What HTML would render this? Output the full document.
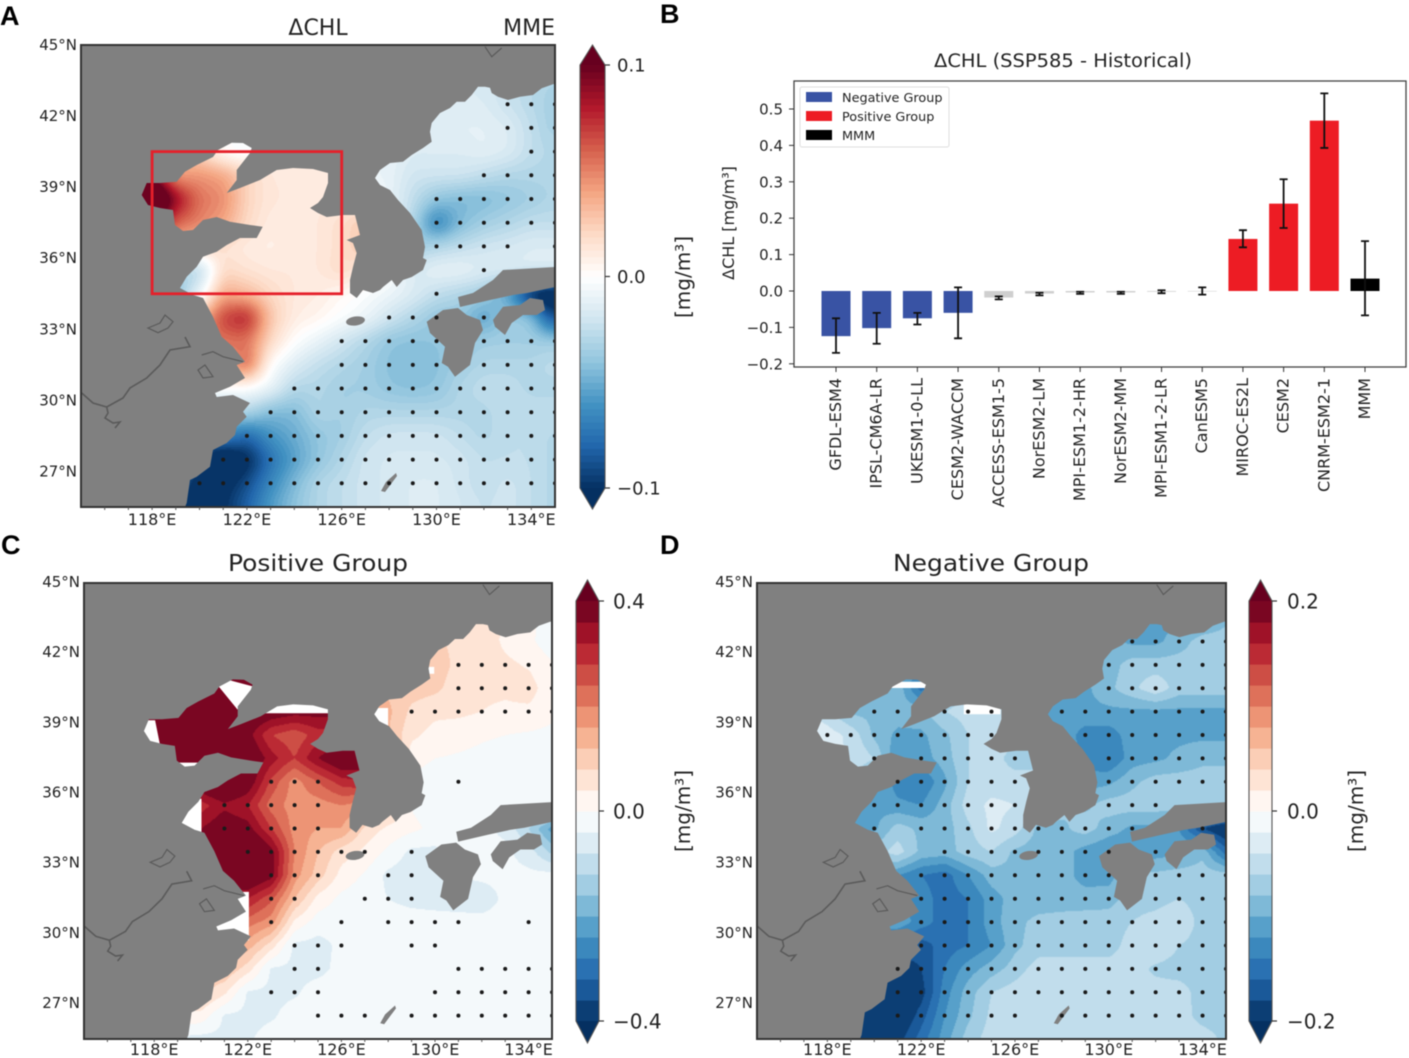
<!DOCTYPE html>
<html lang="en">
<head>
<meta charset="utf-8">
<title>Change in chlorophyll: MME, model bars and group composites</title>
<style>
html,body{margin:0;padding:0;background:#fff;}
#figure{position:relative;width:1409px;height:1058px;overflow:hidden;background:#fff;filter:blur(0.55px);}
canvas{position:absolute;display:block;}
#overlay{position:absolute;left:0;top:0;}
text{font-family:"DejaVu Sans","Liberation Sans",sans-serif;fill:#222;}
.letter{font-family:"Liberation Sans",sans-serif;font-weight:bold;font-size:27px;fill:#000;}
</style>
</head>
<body>
<div id="figure">
<canvas id="field-a" width="474" height="462" style="left:81px;top:45px"></canvas>
<canvas id="field-c" width="468" height="456" style="left:84px;top:583px"></canvas>
<canvas id="field-d" width="469" height="456" style="left:757px;top:583px"></canvas>
<svg id="overlay" width="1409" height="1058" viewBox="0 0 1409 1058" xmlns="http://www.w3.org/2000/svg">
<defs>
<g id="land-shape">
<path fill="#808080" d="M81 45H555V84L553 84.3 541.7 88.3 533 95 520 96.7 508 100 498 96.7 491.7 93 490 87.7 485 86.7 478 86.7 471.7 95 465 101.7 456.7 101.7 450 108 440 113 431.7 123 430 131.7 431.7 141.7 423 148 411.7 155 403 161.7 390 163 380 170 375 178 380 185 390 190 398 200 410 213 421.7 230 425 247 423 258 426.7 260 423 270 411.7 277 403 280 396.7 287 391.7 280 383 287 380 290 373 293 363 290 356.7 298 350 293 350 280 353 267 356.7 253 353 243 346.7 240 360 235 355 215 343 215 326.7 217 318 213 310 208 318 203 323 197 328 183 328 173 313 169 293 168 276.7 170 260 180 240 188 226.7 193 236.7 180 236.7 170 250 153 251.7 148 243 143 231.7 142.7 218 150 213 157 196.7 165 185 171.7 176.7 181.7 160 183 146.7 183 141.7 195 148 205 160 208 173 210 175 225 183 231 193 230 203 220 216.7 217 230 221.7 250 225 262.7 226.7 256.7 238 240 238 226.7 245 216.7 251.7 203 256.7 196.7 266.7 186.7 276.7 180 288 193 295 203 298 213 316.7 221.7 336.7 233 346.7 245 361.7 236.7 365 245 378 230 386.7 215 393 216.7 397 233 395 250 403 243 411.7 246.7 416.7 236.7 426.7 235 435 226.7 443 213 450 210 466.7 196.7 476.7 190 480 186.7 503 185 507H81Z"/>
<path fill="#808080" d="M555 267 503 270 493 280 473 293 458 297 460 307 490 300 513 295 527 293 555 287Z"/>
<path fill="#808080" d="M493 320 503 306.7 520 305 530 298 543 300 545 310 536.7 315 523 315 511.7 323 505 335 495 326.7Z"/>
<path fill="#808080" d="M426.7 321.7 443 310 458 308 466.7 315 480 320 483 330 475 343 470 365 455 376.7 448 366.7 441.7 363 445 346.7 430 333Z"/>
<ellipse fill="#808080" cx="355.5" cy="321" rx="9.5" ry="4.5" transform="rotate(-8 355.5 321)"/>
<path fill="#808080" d="M396 473 386 482 381 491 385 492 391 484 397 476Z"/>
<path fill="none" stroke="#5a5a5a" stroke-width="1.6" d="M81.7 393 93 403 106.7 407 123 398 130 388 146.7 378 160 365 170 350 190 346.7 185 337M106.7 407 108 413 105 418 113 423 120 422 115 428"/>
<path fill="none" stroke="#5a5a5a" stroke-width="1.2" d="M148 328 160 323 165 315 173 321.7 168 328 158 332.7ZM198 370 205 365 213 376.7 203 378ZM485 46.7 491.7 56.7 501.7 48M201.7 355 213 351.7 223 356.7 243 361.7"/>
</g>
</defs>

<text class="letter" x="0" y="25">A</text>
<text class="letter" x="660" y="23">B</text>
<text class="letter" x="1" y="554">C</text>
<text class="letter" x="660" y="554">D</text>

<text x="318" y="35" font-size="22" text-anchor="middle">ΔCHL</text>
<text x="555" y="35" font-size="22" text-anchor="end">MME</text>
<text x="318" y="571" font-size="23" text-anchor="middle" textLength="180" lengthAdjust="spacingAndGlyphs">Positive Group</text>
<text x="991" y="571" font-size="23" text-anchor="middle" textLength="196" lengthAdjust="spacingAndGlyphs">Negative Group</text>
<text x="1063" y="67" font-size="18.5" text-anchor="middle" textLength="258" lengthAdjust="spacingAndGlyphs">ΔCHL (SSP585 - Historical)</text>

<text transform="translate(690,277) rotate(-90)" font-size="20" text-anchor="middle">[mg/m³]</text>
<text transform="translate(690,811) rotate(-90)" font-size="20" text-anchor="middle">[mg/m³]</text>
<text transform="translate(1363,811) rotate(-90)" font-size="20" text-anchor="middle">[mg/m³]</text>
<text transform="translate(734,223) rotate(-90)" font-size="16" text-anchor="middle">ΔCHL [mg/m³]</text>

<g id="panels"></g>
<g id="bars"></g>

<g id="legend">
<rect x="800" y="87" width="149" height="60" rx="2" fill="#fff" stroke="#ddd"/>
<rect x="806" y="92" width="26" height="10" fill="#3953a4"/>
<text x="842" y="102" font-size="12.8">Negative Group</text>
<rect x="806" y="111" width="26" height="10" fill="#ed1c24"/>
<text x="842" y="121" font-size="12.8">Positive Group</text>
<rect x="806" y="130" width="26" height="10" fill="#000"/>
<text x="842" y="140" font-size="12.8">MMM</text>
</g>
</svg>
</div>

<script>
/* ---------- grid axes: 1 degree cells ---------- */
const gridLons = [115,116,117,118,119,120,121,122,123,124,125,126,127,128,129,130,131,132,133,134,135];
const gridLats = [44.5,43.5,42.5,41.5,40.5,39.5,38.5,37.5,36.5,35.5,34.5,33.5,32.5,31.5,30.5,29.5,28.5,27.5,26.5,25.5];
const _ = null;

/* Delta-CHL fields, in 0.001 mg/m3; null = land */
const chlMME = [
[_,_,_,_,_,_,_,_,_,_,_,_,_,_,_,_,_,_,_,_,_],
[_,_,_,_,_,_,_,_,_,_,_,_,_,_,_,_,_,_,_,_,_],
[_,_,_,_,_,_,_,_,_,_,_,_,_,_,_,_,-15,-15,-22,-28,-35],
[_,_,_,_,_,_,_,_,_,_,_,_,_,_,-15,-12,-12,-12,-15,-25,-35],
[_,_,_,_,_,20,0,-5,_,_,_,_,_,-10,-15,-15,-15,-12,-15,-25,-30],
[_,_,_,_,40,45,40,22,12,12,12,10,-10,-10,-20,-20,-20,-25,-30,-30,-30],
[_,_,_,150,90,55,48,22,13,12,12,10,_,-10,-25,-40,-45,-45,-40,-35,-30],
[_,_,_,_,60,50,40,20,10,12,12,18,28,_,-30,-70,-45,-35,-30,-25,-25],
[_,_,_,_,_,_,15,10,8,12,12,18,30,_,_,-30,-25,-20,-18,-15,-15],
[_,_,_,_,_,-30,20,15,12,12,12,20,_,_,_,-10,-10,-15,-15,-15,-15],
[_,_,_,_,-45,-10,38,32,20,12,10,4,-2,-8,-15,-25,-30,-35,-55,-110,-120],
[_,_,_,_,_,30,70,80,28,10,6,-2,-8,-20,-30,-40,-40,-55,-35,-40,-100],
[_,_,_,_,_,_,55,55,20,0,-10,-20,-30,-40,-42,-40,-40,-35,-35,-35,-35],
[_,_,_,_,_,_,_,60,0,-15,-25,-30,-35,-42,-45,-42,-35,-30,-30,-30,-25],
[_,_,_,_,_,_,0,-2,-10,-30,-30,-35,-35,-40,-42,-40,-30,-25,-25,-30,-30],
[_,_,_,_,_,_,_,-30,-45,-45,-30,-35,-30,-30,-30,-30,-30,-30,-25,-25,-25],
[_,_,_,_,_,_,-65,-80,-60,-50,-40,-35,-25,-20,-20,-20,-25,-30,-25,-25,-30],
[_,_,_,_,_,-90,-120,-105,-75,-55,-40,-30,-20,-18,-18,-18,-20,-25,-25,-25,-30],
[_,_,_,_,-80,-105,-105,-90,-65,-45,-30,-25,-20,-18,-15,-15,-20,-25,-20,-25,-30],
[_,_,_,_,-105,-110,-100,-80,-55,-40,-30,-25,-20,-18,-15,-15,-18,-22,-20,-25,-30]
];
const chlPositive = [
[_,_,_,_,_,_,_,_,_,_,_,_,_,_,_,_,_,_,_,_,_],
[_,_,_,_,_,_,_,_,_,_,_,_,_,_,_,_,_,_,_,_,_],
[_,_,_,_,_,_,_,_,_,_,_,_,_,_,_,_,70,70,30,10,-25],
[_,_,_,_,_,_,_,_,_,_,_,_,_,_,110,100,70,70,50,35,5],
[_,_,_,_,_,450,450,450,_,_,_,_,_,110,100,90,60,50,50,60,10],
[_,_,_,_,460,460,460,420,400,380,380,380,170,130,70,50,50,40,30,30,10],
[_,_,_,460,460,460,460,380,280,250,300,300,_,120,50,25,15,5,0,-5,-10],
[_,_,_,_,460,460,460,420,340,280,360,420,400,_,15,0,-5,-10,-15,-15,-20],
[_,_,_,_,_,_,460,400,270,180,240,300,320,_,_,-20,-25,-25,-25,-25,-25],
[_,_,_,_,_,300,350,320,220,180,180,200,_,_,_,-25,-25,-25,-25,-25,-25],
[_,_,_,_,300,360,400,380,280,180,160,160,70,30,10,-10,-25,-30,-50,-120,-220],
[_,_,_,_,_,380,420,460,380,200,120,60,30,-10,-50,-50,-30,-30,-30,-60,-130],
[_,_,_,_,_,_,420,430,380,180,100,25,-5,-50,-65,-60,-40,-30,-30,-30,-25],
[_,_,_,_,_,_,_,320,250,120,25,-10,-25,-40,-50,-55,-60,-65,-30,-25,-25],
[_,_,_,_,_,_,250,220,180,30,-20,-25,-25,-25,-25,-25,-25,-25,-25,-25,-25],
[_,_,_,_,_,_,_,140,60,-50,-55,-30,-25,-25,-25,-25,-25,-25,-25,-25,-25],
[_,_,_,_,_,_,120,60,-45,-50,-50,-30,-25,-25,-25,-25,-25,-25,-25,-25,-25],
[_,_,_,_,_,100,50,-45,-50,-45,-25,-25,-25,-25,-25,-25,-25,-25,-25,-25,-25],
[_,_,_,_,40,25,-45,-50,-45,-25,-25,-25,-25,-25,-25,-25,-25,-25,-25,-25,-25],
[_,_,_,_,-50,-55,-50,-45,-25,-25,-25,-25,-25,-25,-25,-25,-25,-25,-25,-25,-25]
];
const chlNegative = [
[_,_,_,_,_,_,_,_,_,_,_,_,_,_,_,_,_,_,_,_,_],
[_,_,_,_,_,_,_,_,_,_,_,_,_,_,_,_,_,-105,-105,-105,-85],
[_,_,_,_,_,_,_,_,_,_,_,_,_,_,_,_,-105,-105,-90,-70,-70],
[_,_,_,_,_,_,_,_,_,_,_,_,_,_,-105,-90,-70,-70,-70,-70,-70],
[_,_,_,_,_,-85,-85,-150,_,_,_,_,_,-105,-105,-85,-65,-45,-70,-70,-70],
[_,_,_,_,-85,-85,-90,-85,-60,-50,-50,-50,-105,-105,-105,-105,-105,-105,-105,-105,-105],
[_,_,_,-30,-45,-85,-105,-105,-85,-60,-50,-50,_,-105,-130,-130,-110,-105,-105,-105,-105],
[_,_,_,_,-40,-60,-120,-110,-90,-60,-50,-70,-70,_,-130,-140,-110,-105,-95,-85,-85],
[_,_,_,_,_,_,-130,-140,-105,-60,-50,-50,-50,_,_,-105,-85,-70,-70,-70,-70],
[_,_,_,_,_,-105,-115,-120,-90,-50,-35,-40,_,_,_,-70,-70,-70,-70,-70,-70],
[_,_,_,_,-105,-105,-70,-85,-90,-65,-35,-50,-85,-85,-70,-90,-105,-105,-120,-180,-210],
[_,_,_,_,_,-70,-50,-85,-90,-70,-60,-85,-90,-90,-110,-120,-110,-110,-105,-85,-150],
[_,_,_,_,_,_,-120,-140,-150,-120,-90,-85,-85,-90,-110,-110,-75,-75,-70,-70,-70],
[_,_,_,_,_,_,_,-130,-150,-140,-110,-90,-90,-90,-90,-88,-70,-70,-60,-70,-70],
[_,_,_,_,_,_,-105,-130,-150,-140,-110,-85,-75,-72,-70,-70,-60,-50,-40,-70,-70],
[_,_,_,_,_,_,_,-170,-150,-140,-120,-85,-70,-70,-70,-70,-50,-40,-60,-70,-70],
[_,_,_,_,_,_,-200,-180,-140,-110,-90,-70,-50,-50,-50,-50,-50,-65,-70,-70,-70],
[_,_,_,_,_,-210,-210,-190,-130,-90,-60,-50,-45,-45,-45,-45,-45,-50,-50,-70,-70],
[_,_,_,_,-210,-210,-210,-170,-120,-85,-55,-45,-45,-45,-45,-45,-45,-45,-50,-68,-70],
[_,_,_,_,-210,-210,-190,-150,-110,-70,-50,-45,-45,-45,-45,-45,-45,-45,-50,-50,-65]
];

/* significance stipples: longitudes listed for each latitude row */
const stippleLatsA = [42.5,41.5,40.5,39.5,38.5,37.5,36.5,35.5,34.5,33.5,32.5,31.5,30.5,29.5,28.5,27.5,26.5];
const stippleLonsA = [
[133,134,135],[133,134,135],[134,135],[132,133,134,135],[130,131,132,133,134,135],[130,131,132,133,134,135],
[130,131,132,133,135],[132],[130],[128,129,130,132],[126,127,128,129,130,132,133,134,135],[126,127,128,129,130,132,133,134,135],
[124,125,126,127,128,129,130,131,132,133,134,135],[123,124,125,126,127,128,129,130,131,132,133,134,135],
[122,123,124,125,126,127,128,129,130,131,132,133,134,135],[121,122,123,124,125,126,127,128,129,130,131,132,133,134,135],
[120,121,122,123,124,125,126,127,128,129,130,131,132,133,134,135]
];
const stippleLatsC = [41.5,40.5,39.5,36.5,35.5,34.5,33.5,32.5,31.5,30.5,29.5,28.5,27.5,26.5];
const stippleLonsC = [
[131,132,133,134,135],[131,132,133,134,135],[129,130,131,132,133,134,135],[123,124,125,131],[121,122,123,124,125],[121,122,123,124,125],
[122,123,124,125,126,127,129],[123,124,125,128,129],[123,124,127,128,129],[123,126,128,129,130,131,134],[124,125,126,129,130],
[124,125,131,132,133,134,135],[123,124,125,130,131,132,133,134,135],[125,126,127,129,130,131,132,133,134,135]
];
const stippleLatsD = [42.5,41.5,40.5,39.5,38.5,37.5,36.5,35.5,34.5,33.5,32.5,31.5,30.5,29.5,28.5,27.5,26.5];
const stippleLonsD = [
[131,132,133,134,135],[130,131,132,133,134,135],[130,131,132,133,134,135],[120,121,123,124,125,128,129,130,131,132,133,134,135],
[118,119,120,121,122,123,124,125,129,130,131,132,133,134,135],[120,122,123,124,125,126,130,131,132,133,134,135],
[121,122,123,124,125,126,130,131,132,133,134,135],[120,121,122,123,124,125,126,130,131,132],
[120,122,123,124,125,126,127,128,129,130,131,134],[123,124,125,126,127,128,129,130,132],
[122,123,124,125,126,127,128,129,130,132,133,134,135],[122,123,124,125,126,127,128,129,130,132,133,134,135],
[122,123,124,125,126,127,128,129,130,131,132,133,134,135],[122,123,124,125,126,127,128,129,130,131,132,133,134,135],
[121,122,123,124,125,126,127,128,129,130,131,132,133,134,135],[121,122,123,124,125,126,127,128,129,130,131,132,133,134,135],
[121,122,123,124,125,126,128,129,130,131,132,133,134,135]
];

/* map tick labels */
const latTicks = [45,42,39,36,33,30,27];
const lonTicks = [118,122,126,130,134];
const lonMinorTicks = [116,117,118,119,120,121,122,123,124,125,126,127,128,129,130,131,132,133,134];

/* colour bar tick values */
const cbarTicksA = [0.1,0,-0.1];
const cbarTicksC = [0.4,0,-0.4];
const cbarTicksD = [0.2,0,-0.2];

/* bar chart data */
const models = ["GFDL-ESM4","IPSL-CM6A-LR","UKESM1-0-LL","CESM2-WACCM","ACCESS-ESM1-5","NorESM2-LM","MPI-ESM1-2-HR","NorESM2-MM","MPI-ESM1-2-LR","CanESM5","MIROC-ES2L","CESM2","CNRM-ESM2-1","MMM"];
const meanChange = [-0.124,-0.102,-0.075,-0.060,-0.018,-0.007,-0.004,-0.004,-0.002,-0.001,0.143,0.240,0.468,0.034];
const errHigh = [-0.075,-0.060,-0.060,0.010,-0.015,-0.005,-0.002,-0.002,0.002,0.010,0.167,0.307,0.543,0.137];
const errLow = [-0.170,-0.145,-0.092,-0.130,-0.023,-0.012,-0.008,-0.008,-0.006,-0.010,0.120,0.173,0.393,-0.067];
const modelGroups = ["neg","neg","neg","neg","none","none","none","none","none","none","pos","pos","pos","mmm"];
const barTicks = [0.5,0.4,0.3,0.2,0.1,0,-0.1,-0.2];

/* ---------- colour map ---------- */
const rdbuStops = ["#053061","#2166ac","#4393c3","#92c5de","#d1e5f0","#ffffff","#fddbc7","#f4a582","#d6604d","#b2182b","#67001f"];
const rdbuRGB = rdbuStops.map(h => [parseInt(h.slice(1,3),16),parseInt(h.slice(3,5),16),parseInt(h.slice(5,7),16)]);
function cmap(t){
  t = Math.max(0,Math.min(1,t));
  const f = t*(rdbuRGB.length-1), i = Math.min(rdbuRGB.length-2,Math.floor(f)), k = f-i;
  return [0,1,2].map(c => Math.round(rdbuRGB[i][c]*(1-k)+rdbuRGB[i+1][c]*k));
}
function css(rgb){return "rgb("+rgb.join(",")+")";}
function bandT(v,vmax,n){
  const idx = Math.max(0,Math.min(n-1,Math.floor((v+vmax)/(2*vmax)*n)));
  return (idx+0.5)/n;
}

/* ---------- helpers ---------- */
const NS = "http://www.w3.org/2000/svg";
function mk(parent,tag,attrs,txt){
  const e = document.createElementNS(NS,tag);
  for(const k in attrs) e.setAttribute(k,attrs[k]);
  if(txt!==undefined) e.textContent = txt;
  parent.appendChild(e);
  return e;
}
function fillLand(rows){
  const g = rows.map(r => r.slice());
  for(let pass=0;pass<30;pass++){
    let missing = 0;
    const snap = g.map(r => r.slice());
    for(let j=0;j<g.length;j++)for(let i=0;i<g[j].length;i++){
      if(snap[j][i]!==null) continue;
      let s=0,w=0;
      for(let dj=-1;dj<=1;dj++)for(let di=-1;di<=1;di++){
        const r = snap[j+dj];
        if(r && r[i+di]!==undefined && r[i+di]!==null){s+=r[i+di];w++;}
      }
      if(w) g[j][i]=s/w; else missing++;
    }
    if(!missing) break;
  }
  return g;
}
function sampleField(g,lon,lat){
  let fx = lon-gridLons[0], fy = gridLats[0]-lat;
  fx = Math.max(0,Math.min(gridLons.length-1.001,fx));
  fy = Math.max(0,Math.min(gridLats.length-1.001,fy));
  const i=Math.floor(fx), j=Math.floor(fy), a=fx-i, b=fy-j;
  return (g[j][i]*(1-a)+g[j][i+1]*a)*(1-b)+(g[j+1][i]*(1-a)+g[j+1][i+1]*a)*b;
}
function boxSmooth(vals,w,h,rad){
  const tmp = new Float32Array(vals.length);
  for(let y=0;y<h;y++)for(let x=0;x<w;x++){
    let s=0,c=0;
    for(let d=-rad;d<=rad;d++){const q=x+d;if(q>=0&&q<w){s+=vals[y*w+q];c++;}}
    tmp[y*w+x]=s/c;
  }
  for(let x=0;x<w;x++)for(let y=0;y<h;y++){
    let s=0,c=0;
    for(let d=-rad;d<=rad;d++){const q=y+d;if(q>=0&&q<h){s+=tmp[q*w+x];c++;}}
    vals[y*w+x]=s/c;
  }
}

/* ---------- panel definitions ---------- */
const LON0=115, LON1=135, LAT0=25.5, LAT1=45;
const panels = [
 {key:"a",x:81,y:45,w:474,h:462,data:chlMME,vmax:0.1,bands:64,smooth:7,lats:stippleLatsA,lons:stippleLonsA,
  cb:{x:580,w:25,top:45,hi:65,lo:488,bot:509,lx:617},ticks:cbarTicksA,fs:18,labelX:77,lonY:525,latOff:5,white:[]},
 {key:"c",x:84,y:583,w:468,h:456,data:chlPositive,vmax:0.4,bands:20,smooth:1,lats:stippleLatsC,lons:stippleLonsC,
  cb:{x:576,w:23,top:580,hi:601,lo:1021,bot:1043,lx:613},ticks:cbarTicksC,fs:20,labelX:80,lonY:1055,latOff:4,
  white:["216.5,148.7 229,143.6 254.4,150.4 248,170.7 236.3,173","138.7,184 153,184 158.9,213.6 138.7,213.6","175.7,227 197.6,227 197.6,238 175.7,238","176.5,263.6 200,263.6 200,304 176.5,304","210,358 248,358 248,407 210,407","262.8,167.3 330,167.3 330,177 262.8,177","373.5,171.7 389,171.7 389,195 373.5,195","428.6,130 435.7,130 435.7,137 428.6,137"]},
 {key:"d",x:757,y:583,w:469,h:456,data:chlNegative,vmax:0.2,bands:20,smooth:1,lats:stippleLatsD,lons:stippleLonsD,
  cb:{x:1249,w:23,top:580,hi:601,lo:1021,bot:1043,lx:1287},ticks:cbarTicksD,fs:20,labelX:753,lonY:1055,latOff:4,
  white:["216.5,145 252,145 252,151.4 216.5,151.4","290,167 327,167 327,178 290,178"]}
];

function lonX(p,lon){return p.x+(lon-LON0)/(LON1-LON0)*p.w;}
function latY(p,lat){return p.y+(LAT1-lat)/(LAT1-LAT0)*p.h;}

const panelRoot = document.getElementById("panels");
panels.forEach(p => {
  /* field */
  const grid = fillLand(p.data);
  const cv = document.getElementById("field-"+p.key), ctx = cv.getContext("2d");
  const W = cv.width, H = cv.height, vals = new Float32Array(W*H);
  for(let py=0;py<H;py++){
    const lat = LAT1-(py+0.5)/H*(LAT1-LAT0);
    for(let px=0;px<W;px++){
      const lon = LON0+(px+0.5)/W*(LON1-LON0);
      vals[py*W+px] = sampleField(grid,lon,lat)/1000;
    }
  }
  boxSmooth(vals,W,H,p.smooth);
  boxSmooth(vals,W,H,p.smooth);
  const img = ctx.createImageData(W,H);
  for(let o=0;o<W*H;o++){
    const c = cmap(bandT(vals[o],p.vmax,p.bands));
    img.data[o*4]=c[0];img.data[o*4+1]=c[1];img.data[o*4+2]=c[2];img.data[o*4+3]=255;
  }
  ctx.putImageData(img,0,0);

  const g = mk(panelRoot,"g",{});
  
  

  const clipId = "clip-"+p.key;
  const cp = mk(g,"clipPath",{id:clipId});
  mk(cp,"rect",{x:p.x,y:p.y,width:p.w,height:p.h});
  const inner = mk(g,"g",{"clip-path":"url(#"+clipId+")"});
  
  

  const geo = "translate("+p.x+","+p.y+") scale("+(p.w/474)+","+(p.h/462)+") translate(-81,-45)";
  p.white.forEach(pts => {
    const w = mk(inner,"polygon",{points:pts,fill:"#fff",transform:geo});
    
    
  });
  const land = mk(inner,"use",{href:"#land-shape",transform:geo});
  
  

  /* stipples */
  p.lats.forEach((lat,r) => {
    p.lons[r].forEach(lon => {
      const d = mk(inner,"circle",{cx:lonX(p,lon),cy:latY(p,lat),r:2,fill:"#1a1a1a"});
      
      
    });
  });

  /* frame */
  const fr = mk(g,"rect",{x:p.x,y:p.y,width:p.w,height:p.h,fill:"none",stroke:"#333","stroke-width":2});
  
  

  lonMinorTicks.forEach(lon => {
    const m = mk(g,"line",{x1:lonX(p,lon),x2:lonX(p,lon),y1:p.y+p.h,y2:p.y+p.h+3,stroke:"#555","stroke-width":1});
    
    
  });

  /* axis labels */
  latTicks.forEach(lat => {
    const t = mk(g,"text",{x:p.labelX,y:latY(p,lat)+p.latOff,"font-size":15,"text-anchor":"end"},lat+"°N");
    
    
  });
  lonTicks.forEach(lon => {
    const t = mk(g,"text",{x:lonX(p,lon),y:p.lonY,"font-size":16,"text-anchor":"middle"},lon+"°E");
    
    
  });

  /* colour bar */
  const cb = p.cb, barG = mk(g,"g",{});
  
  
  const bh = (cb.lo-cb.hi)/p.bands;
  for(let i=0;i<p.bands;i++){
    const r = mk(barG,"rect",{x:cb.x,y:cb.lo-(i+1)*bh,width:cb.w,height:bh+0.6,fill:css(cmap((i+0.5)/p.bands))});
    
    
  }
  const up = mk(barG,"polygon",{points:(cb.x+cb.w/2)+","+cb.top+" "+(cb.x+cb.w)+","+cb.hi+" "+cb.x+","+cb.hi,fill:css(cmap(1))});
  
  
  const dn = mk(barG,"polygon",{points:(cb.x+cb.w/2)+","+cb.bot+" "+(cb.x+cb.w)+","+cb.lo+" "+cb.x+","+cb.lo,fill:css(cmap(0))});
  
  
  const ol = mk(barG,"polygon",{points:(cb.x+cb.w/2)+","+cb.top+" "+(cb.x+cb.w)+","+cb.hi+" "+(cb.x+cb.w)+","+cb.lo+" "+(cb.x+cb.w/2)+","+cb.bot+" "+cb.x+","+cb.lo+" "+cb.x+","+cb.hi,fill:"none",stroke:"#555","stroke-width":1.1});
  
  
  p.ticks.forEach(v => {
    const y = cb.lo-(v+p.vmax)/(2*p.vmax)*(cb.lo-cb.hi);
    const tk = mk(barG,"line",{x1:cb.x+cb.w,x2:cb.x+cb.w+5,y1:y,y2:y,stroke:"#333","stroke-width":1.2});
    
    
    const lbl = (v<0?"−":"")+Math.abs(v).toFixed(1);
    const t = mk(barG,"text",{x:cb.lx,y:y+p.fs*0.37,"font-size":p.fs},lbl);
    
    
  });
});

/* red study-area box on panel A */
(function(){
  const p = panels[0];
  const box = mk(panelRoot,"rect",{x:lonX(p,118),y:latY(p,40.5),width:lonX(p,126)-lonX(p,118),height:latY(p,34.5)-latY(p,40.5),fill:"none",stroke:"#e5202a","stroke-width":2.8});
  
  
})();

/* ---------- bar chart ---------- */
const barRoot = document.getElementById("bars");
const chart = {left:794,right:1406,top:81,bottom:367};
function barX(i){return 836+i*(1365-836)/(models.length-1);}
function barY(v){return 291-v*364;}
const groupColour = {neg:"#3953a4",pos:"#ed1c24",mmm:"#000",none:"#cfcfcf"};

const frame = mk(barRoot,"rect",{x:chart.left,y:chart.top,width:chart.right-chart.left,height:chart.bottom-chart.top,fill:"#fff",stroke:"#444","stroke-width":1.3});



barTicks.forEach(v => {
  const y = barY(v);
  const tk = mk(barRoot,"line",{x1:chart.left-5,x2:chart.left,y1:y,y2:y,stroke:"#333","stroke-width":1});
  
  
  const t = mk(barRoot,"text",{x:chart.left-11,y:y+5.5,"font-size":15,"text-anchor":"end"},(v<0?"−":"")+Math.abs(v).toFixed(1));
  
  
});

models.forEach((m,i) => {
  const cx = barX(i), top = barY(Math.max(0,meanChange[i])), bot = barY(Math.min(0,meanChange[i]));
  const b = mk(barRoot,"rect",{x:cx-14.5,y:top,width:29,height:Math.max(0.5,bot-top),fill:groupColour[modelGroups[i]]});
  
  

  const yH = barY(errHigh[i]), yL = barY(errLow[i]);
  const e = mk(barRoot,"path",{d:"M"+cx+" "+yH+"V"+yL+"M"+(cx-4)+" "+yH+"H"+(cx+4)+"M"+(cx-4)+" "+yL+"H"+(cx+4),fill:"none",stroke:"#111","stroke-width":1.8});
  
  

  const tk = mk(barRoot,"line",{x1:cx,x2:cx,y1:chart.bottom,y2:chart.bottom+5,stroke:"#333","stroke-width":1});
  
  

  const t = mk(barRoot,"text",{transform:"translate("+(cx+5)+",378) rotate(-90)","font-size":16,"text-anchor":"end"},m);
  
  
});
</script>
</body>
</html>
